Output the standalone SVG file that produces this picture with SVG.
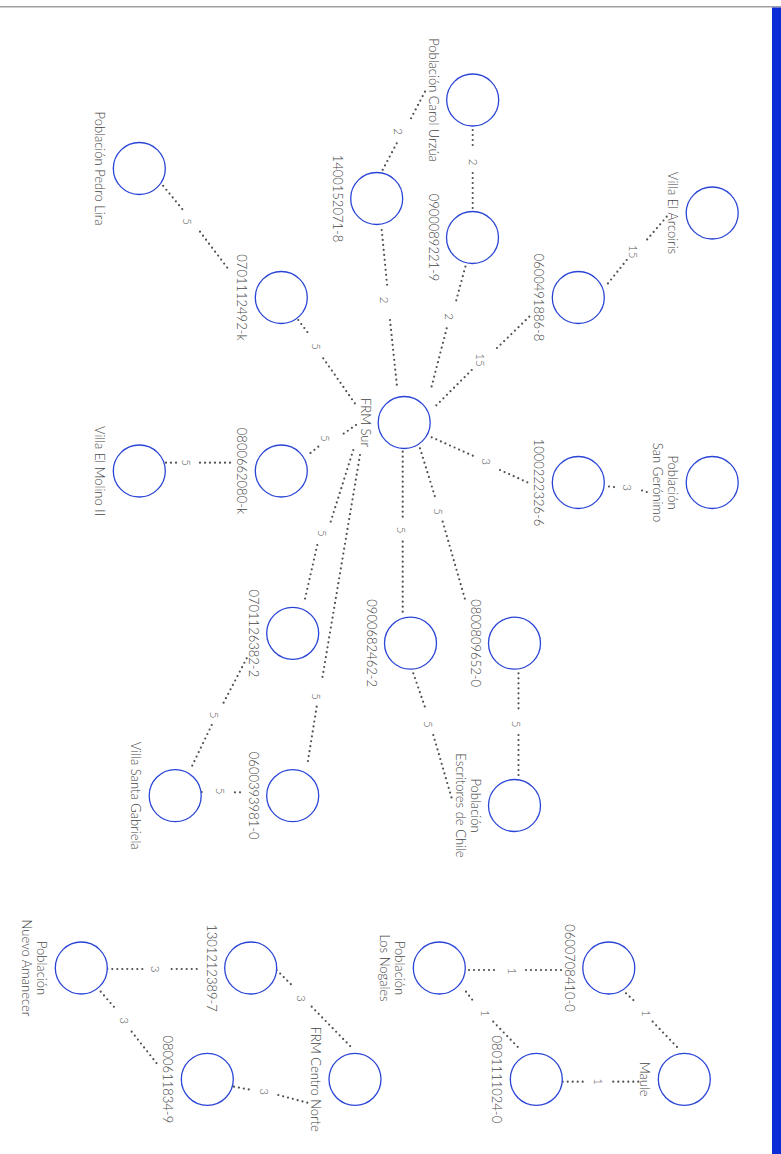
<svg xmlns="http://www.w3.org/2000/svg" width="781" height="1154" viewBox="0 0 781 1154">
<style>
.nd circle{fill:#fff;stroke:#2a45d6;stroke-width:1.3}
.lb{font-family:Lato,"Liberation Sans",sans-serif;font-weight:300;font-size:13px;fill:#444;text-anchor:middle}
.el{font-family:Lato,"Liberation Sans",sans-serif;font-weight:300;font-size:11.5px;fill:#555;text-anchor:middle}
.e{stroke:#505050;stroke-width:2.2;stroke-linecap:round;stroke-dasharray:0 5;fill:none}
</style>
<rect x="0" y="0" width="781" height="1154" fill="#fff"/>
<rect x="0" y="6" width="781" height="1.5" fill="#a0a0a0"/>
<rect x="772" y="7.5" width="9" height="1146.5" fill="#0a2bd6"/>
<g id="connectors">
<path class="e" d="M472.7,130L472.7,150M472.7,173L472.7,211.7"/>
<path class="e" d="M425,91.7L411,118.3M396.7,143.3L381.7,171.7"/>
<path class="e" d="M160,182L183,210M200,231.7L229,270"/>
<path class="e" d="M381.7,230L387.3,286.7M390,320L397.3,389.3"/>
<path class="e" d="M466.7,261.7L455,305M446.7,328.3L430.7,390"/>
<path class="e" d="M529.3,316.7L496.7,348.3M471.7,370L435,406.7"/>
<path class="e" d="M666.7,216.7L646.7,240M626.7,260L606.7,285"/>
<path class="e" d="M431.7,437.3L475,456.7M500,470L531.7,484.3"/>
<path class="e" d="M609,486.5L617,487.5M642,490.5L650,493"/>
<path class="e" d="M298.3,320L308.3,333.3M323.3,358.3L356.7,406"/>
<path class="e" d="M356,425L341.7,435M318.3,446.7L306.7,456"/>
<path class="e" d="M166,462.7L176.7,462.7M200,462.7L233.3,462.7"/>
<path class="e" d="M353.3,450L330.7,521.7M317.3,545L304,603.3"/>
<path class="e" d="M360,455L321.7,681.7M316.7,706.7L307.3,765"/>
<path class="e" d="M402.7,451.7L402.7,520M402.7,541.7L402.7,613.3"/>
<path class="e" d="M420,448.3L436,500M442.7,521.7L465.7,601.7"/>
<path class="e" d="M518.5,673.3L518.5,713.3M518.5,735L518.5,776.7"/>
<path class="e" d="M413.3,673.3L426,710M433.3,735L451.7,798.3"/>
<path class="e" d="M246.7,658.3L223.3,703.3M211.7,725L191.7,766.7"/>
<path class="e" d="M201.7,792L206.7,792M235,792.3L245,792.3"/>
<path class="e" d="M107.3,969L146.7,969M171.7,969L201.7,969"/>
<path class="e" d="M276.7,970L293.3,986.7M311.7,1006.7L353.3,1049.3"/>
<path class="e" d="M100.7,991.7L116.7,1010M131.7,1031.7L159.3,1066.7"/>
<path class="e" d="M234,1086.7L251.7,1090M278.3,1095L307.3,1102.7"/>
<path class="e" d="M464,970L498.3,970M526,970L561.7,970"/>
<path class="e" d="M626,993.3L635,1001.7M652.7,1021.7L677.3,1047.3"/>
<path class="e" d="M466,991.7L475,1003.3M493.3,1021.7L520,1049.3"/>
<path class="e" d="M562.7,1081.7L586.7,1081.7M613.3,1081.7L639.3,1081.7"/>
<text class="el" transform="translate(468.5,162) rotate(90)">2</text>
<text class="el" transform="translate(394.3,131.7) rotate(90)">2</text>
<text class="el" transform="translate(182.7,221.7) rotate(90)">5</text>
<text class="el" transform="translate(380,300) rotate(90)">2</text>
<text class="el" transform="translate(445,316.7) rotate(90)">2</text>
<text class="el" transform="translate(476,360) rotate(90)">15</text>
<text class="el" transform="translate(629.3,251.7) rotate(90)">15</text>
<text class="el" transform="translate(482,461.7) rotate(90)">3</text>
<text class="el" transform="translate(622.7,487.7) rotate(90)">3</text>
<text class="el" transform="translate(311.7,346.7) rotate(90)">5</text>
<text class="el" transform="translate(321,438.3) rotate(90)">5</text>
<text class="el" transform="translate(182,462.7) rotate(90)">5</text>
<text class="el" transform="translate(317.7,533.3) rotate(90)">5</text>
<text class="el" transform="translate(312,696.7) rotate(90)">5</text>
<text class="el" transform="translate(396.7,530) rotate(90)">5</text>
<text class="el" transform="translate(434.3,511.7) rotate(90)">5</text>
<text class="el" transform="translate(512,724) rotate(90)">5</text>
<text class="el" transform="translate(424.3,724.3) rotate(90)">5</text>
<text class="el" transform="translate(210,715) rotate(90)">5</text>
<text class="el" transform="translate(216,791) rotate(90)">5</text>
<text class="el" transform="translate(151,969) rotate(90)">3</text>
<text class="el" transform="translate(297,998.3) rotate(90)">3</text>
<text class="el" transform="translate(120,1020.7) rotate(90)">3</text>
<text class="el" transform="translate(260,1091.7) rotate(90)">3</text>
<text class="el" transform="translate(507.7,971) rotate(90)">1</text>
<text class="el" transform="translate(642,1013.3) rotate(90)">1</text>
<text class="el" transform="translate(481,1013.3) rotate(90)">1</text>
<text class="el" transform="translate(594.3,1081.7) rotate(90)">1</text>
</g>
<g id="n-carol-urzua" class="nd"><circle cx="472.7" cy="100" r="26"/><text class="lb" transform="translate(428.7,100) rotate(90)">Población Carol Urzúa</text></g>
<g id="n-0900089221-9" class="nd"><circle cx="472.5" cy="237.5" r="26"/><text class="lb" transform="translate(428.5,237.5) rotate(90)">0900089221-9</text></g>
<g id="n-1400152071-8" class="nd"><circle cx="376.7" cy="198.5" r="26"/><text class="lb" transform="translate(332.7,198.5) rotate(90)">1400152071-8</text></g>
<g id="n-pedro-lira" class="nd"><circle cx="139.3" cy="168.5" r="26"/><text class="lb" transform="translate(95.3,168.5) rotate(90)">Población Pedro Lira</text></g>
<g id="n-0701112492-k" class="nd"><circle cx="281.3" cy="297.5" r="26"/><text class="lb" transform="translate(237.3,297.5) rotate(90)">0701112492-k</text></g>
<g id="n-villa-el-arcoiris" class="nd"><circle cx="712.2" cy="213" r="26"/><text class="lb" transform="translate(668.2,213) rotate(90)">Villa El Arcoiris</text></g>
<g id="n-0600491886-8" class="nd"><circle cx="578.3" cy="297.5" r="26"/><text class="lb" transform="translate(534.3,297.5) rotate(90)">0600491886-8</text></g>
<g id="n-frm-sur" class="nd"><circle cx="404.2" cy="422.5" r="26"/><text class="lb" transform="translate(360.7,422.5) rotate(90)">FRM Sur</text></g>
<g id="n-san-geronimo" class="nd"><circle cx="712.2" cy="482.5" r="26"/><text class="lb" transform="translate(668.2,482.5) rotate(90)">Población</text><text class="lb" transform="translate(653.2,482.5) rotate(90)">San Gerónimo</text></g>
<g id="n-1000222326-6" class="nd"><circle cx="578.3" cy="482.5" r="26"/><text class="lb" transform="translate(534.3,482.5) rotate(90)">1000222326-6</text></g>
<g id="n-villa-el-molino-ii" class="nd"><circle cx="139.3" cy="471" r="26"/><text class="lb" transform="translate(95.3,471) rotate(90)">Villa El Molino II</text></g>
<g id="n-0800662080-k" class="nd"><circle cx="281.3" cy="471" r="26"/><text class="lb" transform="translate(237.3,471) rotate(90)">0800662080-k</text></g>
<g id="n-0701126382-2" class="nd"><circle cx="292.7" cy="633.3" r="26"/><text class="lb" transform="translate(248.7,633.3) rotate(90)">0701126382-2</text></g>
<g id="n-0900682462-2" class="nd"><circle cx="410.5" cy="643.2" r="26"/><text class="lb" transform="translate(366.5,643.2) rotate(90)">0900682462-2</text></g>
<g id="n-0800809652-0" class="nd"><circle cx="514.5" cy="643.2" r="26"/><text class="lb" transform="translate(470.5,643.2) rotate(90)">0800809652-0</text></g>
<g id="n-escritores-de-chile" class="nd"><circle cx="514.5" cy="805.5" r="26"/><text class="lb" transform="translate(470.5,805.5) rotate(90)">Población</text><text class="lb" transform="translate(455.5,805.5) rotate(90)">Escritores de Chile</text></g>
<g id="n-villa-santa-gabriela" class="nd"><circle cx="175.2" cy="795.7" r="26"/><text class="lb" transform="translate(131.2,795.7) rotate(90)">Villa Santa Gabriela</text></g>
<g id="n-0600393981-0" class="nd"><circle cx="292.7" cy="795.7" r="26"/><text class="lb" transform="translate(248.7,795.7) rotate(90)">0600393981-0</text></g>
<g id="n-nuevo-amanecer" class="nd"><circle cx="81.3" cy="968" r="26"/><text class="lb" transform="translate(37.3,968) rotate(90)">Población</text><text class="lb" transform="translate(22.3,968) rotate(90)">Nuevo Amanecer</text></g>
<g id="n-1301212389-7" class="nd"><circle cx="250.7" cy="968" r="26"/><text class="lb" transform="translate(206.7,968) rotate(90)">1301212389-7</text></g>
<g id="n-0800611834-9" class="nd"><circle cx="207.3" cy="1079.3" r="26"/><text class="lb" transform="translate(163.3,1079.3) rotate(90)">0800611834-9</text></g>
<g id="n-frm-centro-norte" class="nd"><circle cx="355" cy="1079.3" r="26"/><text class="lb" transform="translate(311,1079.3) rotate(90)">FRM Centro Norte</text></g>
<g id="n-los-nogales" class="nd"><circle cx="439.3" cy="968" r="26"/><text class="lb" transform="translate(395.3,968) rotate(90)">Población</text><text class="lb" transform="translate(380.3,968) rotate(90)">Los Nogales</text></g>
<g id="n-0600708410-0" class="nd"><circle cx="608.8" cy="968" r="26"/><text class="lb" transform="translate(564.8,968) rotate(90)">0600708410-0</text></g>
<g id="n-0801111024-0" class="nd"><circle cx="536.3" cy="1079.3" r="26"/><text class="lb" transform="translate(492.3,1079.3) rotate(90)">0801111024-0</text></g>
<g id="n-maule" class="nd"><circle cx="684.3" cy="1079.3" r="26"/><text class="lb" transform="translate(640.3,1079.3) rotate(90)">Maule</text></g>
</svg>
